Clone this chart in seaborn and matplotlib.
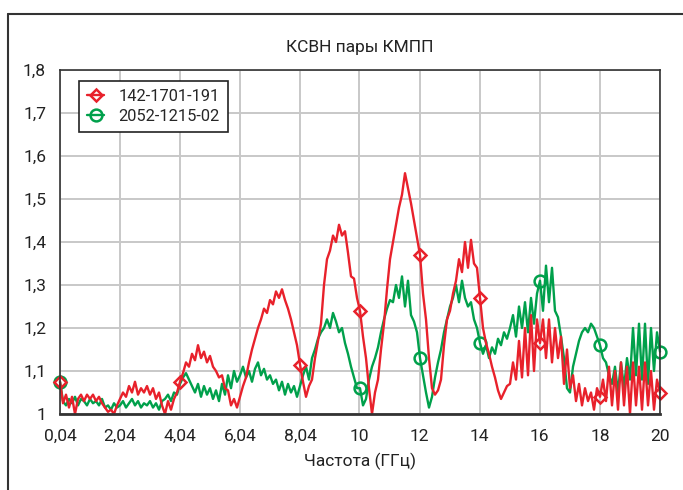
import numpy as np
import seaborn as sns
import matplotlib.pyplot as plt
from matplotlib.lines import Line2D

# frequency grid, GHz (0.04 .. 20)
freq = np.linspace(0.04, 20.0, 201)

# 142-1701-191 (red)
vswr_red = [
    1.075, 1.025, 1.045, 1.015, 1.04, 1.0, 1.035, 1.045, 1.03, 1.045,
    1.035, 1.045, 1.03, 1.04, 1.025, 1.015, 1.005, 1.01, 1.0, 1.02,
    1.035, 1.05, 1.04, 1.065, 1.05, 1.075, 1.045, 1.06, 1.05, 1.065,
    1.045, 1.06, 1.035, 1.05, 1.02, 1.0, 1.03, 1.01, 1.035, 1.05,
    1.075, 1.095, 1.12, 1.11, 1.14, 1.125, 1.16, 1.13, 1.145, 1.12,
    1.135, 1.11, 1.1, 1.085, 1.09, 1.06, 1.055, 1.02, 1.035, 1.015,
    1.04, 1.065, 1.085, 1.12, 1.15, 1.175, 1.2, 1.22, 1.245, 1.235,
    1.265, 1.255, 1.285, 1.27, 1.29, 1.265, 1.245, 1.22, 1.19, 1.16,
    1.115, 1.075, 1.04, 1.065, 1.08, 1.13, 1.17, 1.21, 1.3, 1.36,
    1.38, 1.415, 1.4, 1.44, 1.415, 1.425, 1.375, 1.32, 1.315, 1.27,
    1.24, 1.18, 1.13, 1.06, 1.0, 1.05, 1.08, 1.15, 1.21, 1.29,
    1.36, 1.4, 1.44, 1.48, 1.51, 1.56, 1.525, 1.49, 1.45, 1.41,
    1.37, 1.28, 1.22, 1.13, 1.06, 1.045, 1.055, 1.08, 1.16, 1.22,
    1.24, 1.28, 1.31, 1.36, 1.33, 1.4, 1.34, 1.405, 1.35, 1.34,
    1.27, 1.2, 1.165, 1.14, 1.11, 1.085, 1.055, 1.035, 1.05, 1.065,
    1.07, 1.12, 1.08, 1.17, 1.085, 1.2, 1.09, 1.23, 1.1, 1.22,
    1.165, 1.22, 1.13, 1.22, 1.12, 1.2, 1.13, 1.18, 1.07, 1.15,
    1.06, 1.09, 1.03, 1.07, 1.02, 1.06, 1.03, 1.05, 1.01, 1.06,
    1.04, 1.08, 1.03, 1.11, 1.02, 1.1, 1.01, 1.12, 1.02, 1.11,
    1.0, 1.12, 1.02, 1.11, 1.01, 1.12, 1.02, 1.1, 1.01, 1.08,
    1.05,
]

# 2052-1215-02 (green)
vswr_green = [
    1.075, 1.03, 1.02, 1.035, 1.025, 1.04, 1.02, 1.035, 1.03, 1.02,
    1.035, 1.025, 1.03, 1.02, 1.035, 1.015, 1.02, 1.01, 1.025, 1.015,
    1.02, 1.03, 1.015, 1.025, 1.035, 1.02, 1.03, 1.015, 1.025, 1.02,
    1.03, 1.015, 1.025, 1.01, 1.03, 1.035, 1.045, 1.03, 1.05, 1.045,
    1.07, 1.085, 1.095, 1.08, 1.065, 1.05, 1.07, 1.04, 1.065, 1.045,
    1.06, 1.035, 1.055, 1.03, 1.07, 1.045, 1.09, 1.06, 1.1, 1.075,
    1.09, 1.11, 1.085, 1.1, 1.075, 1.105, 1.12, 1.09, 1.105, 1.08,
    1.09, 1.07, 1.08, 1.055, 1.075, 1.045, 1.07, 1.05, 1.065, 1.04,
    1.065, 1.09, 1.11, 1.08, 1.13, 1.15, 1.175, 1.19, 1.2, 1.22,
    1.2, 1.235, 1.215, 1.19, 1.2, 1.165, 1.14, 1.11, 1.085, 1.06,
    1.06, 1.02, 1.035, 1.08, 1.11, 1.13, 1.155, 1.19, 1.22, 1.245,
    1.265, 1.26, 1.3, 1.27, 1.32, 1.25, 1.31, 1.23, 1.215, 1.19,
    1.13, 1.09, 1.05, 1.015, 1.04, 1.085, 1.12, 1.15, 1.19, 1.22,
    1.25, 1.27, 1.3, 1.26, 1.31, 1.27, 1.25, 1.26, 1.22, 1.2,
    1.165, 1.14, 1.16, 1.13, 1.155, 1.14, 1.175, 1.16, 1.19, 1.175,
    1.2, 1.23, 1.18, 1.25, 1.2, 1.26, 1.19, 1.27, 1.21, 1.28,
    1.31, 1.24, 1.345, 1.26, 1.34, 1.24, 1.225, 1.18, 1.13, 1.06,
    1.05, 1.11, 1.14, 1.17, 1.19, 1.2, 1.19, 1.21, 1.2, 1.18,
    1.16, 1.13, 1.12, 1.09, 1.07, 1.11, 1.05, 1.12, 1.06, 1.13,
    1.08, 1.2, 1.09, 1.21, 1.08, 1.21, 1.07, 1.2, 1.1, 1.19,
    1.145,
]

# sample indices where a marker is visible
red_marks = [0, 40, 80, 100, 120, 140, 160, 180, 200]
green_marks = [0, 100, 120, 140, 160, 180, 200]

xticks = [0.04, 2.04, 4.04, 6.04, 8.04, 10, 12, 14, 16, 18, 20]
xtick_labels = ['0,04', '2,04', '4,04', '6,04', '8,04', '10', '12', '14', '16', '18', '20']
yticks = [1.0, 1.1, 1.2, 1.3, 1.4, 1.5, 1.6, 1.7, 1.8]
ytick_labels = ['1', '1,1', '1,2', '1,3', '1,4', '1,5', '1,6', '1,7', '1,8']

RED = '#e8212b'
GREEN = '#00a04b'

sns.set_style("whitegrid", {"grid.color": "#c8c8c8", "axes.edgecolor": "#333333"})
plt.rcParams['font.family'] = ['Roboto', 'DejaVu Sans']

fig = plt.figure(figsize=(6.83, 4.9), dpi=100)
ax = fig.add_axes([60/683, 1 - 414/490, 600/683, 344/490])

# green first so the red trace sits on top
sns.lineplot(x=freq, y=vswr_green, ax=ax, color=GREEN, lw=1.7, estimator=None,
             marker='o', markevery=green_marks, markersize=8.5, fillstyle='none',
             markeredgewidth=1.8, markeredgecolor=GREEN, label='2052-1215-02',
             clip_on=False)
sns.lineplot(x=freq, y=vswr_red, ax=ax, color=RED, lw=1.7, estimator=None,
             marker='D', markevery=red_marks, markersize=6.5, fillstyle='none',
             markeredgewidth=1.8, markeredgecolor=RED, label='142-1701-191',
             clip_on=False)

ax.set_xlim(0.04, 20)
ax.set_ylim(1.0, 1.8)
ax.set_xticks(xticks)
ax.set_xticklabels(xtick_labels)
ax.set_yticks(yticks)
ax.set_yticklabels(ytick_labels)
ax.tick_params(length=0, labelsize=12.5, colors='#222222')
ax.tick_params(axis='x', pad=11)
ax.tick_params(axis='y', pad=10)
ax.grid(True, lw=1.4, color='#c8c8c8')
for side in ['top', 'right', 'left']:
    ax.spines[side].set_linewidth(1.2)
ax.spines['bottom'].set_linewidth(2)

ax.set_title('КСВН пары КМПП', fontsize=12.5, color='#222222', pad=13)
ax.set_xlabel('Частота (ГГц)', fontsize=12.5, color='#222222', labelpad=6)
ax.set_ylabel('')

handles, labels = ax.get_legend_handles_labels()
leg = ax.legend(handles[::-1], labels[::-1], loc='upper left',
                bbox_to_anchor=(0.032, 0.968), borderaxespad=0,
                fontsize=11.8, frameon=True, fancybox=False, edgecolor='#222222',
                handlelength=1.0, handletextpad=0.9, borderpad=0.5, labelspacing=0.3)
leg.get_frame().set_linewidth(1.2)
leg.get_frame().set_alpha(1)

# outer frame of the picture
fig.add_artist(Line2D([8/683, 1], [1 - 14/490, 1 - 14/490], transform=fig.transFigure, color='#333333', lw=1.5))
fig.add_artist(Line2D([8/683, 8/683], [0, 1 - 14/490], transform=fig.transFigure, color='#333333', lw=1.5))

fig.savefig('out.png', dpi=100)
